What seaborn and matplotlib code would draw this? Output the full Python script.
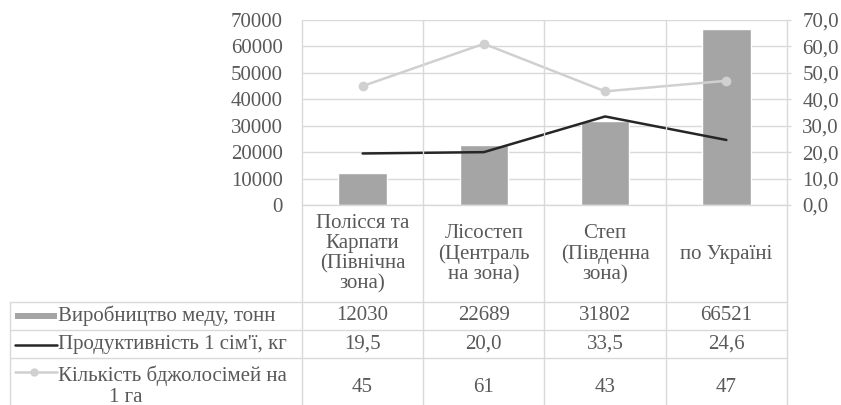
import numpy as np
import matplotlib
matplotlib.use("Agg")
import matplotlib.pyplot as plt
import matplotlib.transforms as mtransforms
from matplotlib.lines import Line2D
from matplotlib.patches import Rectangle
from matplotlib.ticker import FuncFormatter, MultipleLocator
import seaborn as sns

categories = [
    "Полісся та\nКарпати\n(Північна\nзона)",
    "Лісостеп\n(Централь\nна зона)",
    "Степ\n(Південна\nзона)",
    "по Україні",
]
honey = [12030, 22689, 31802, 66521]
productivity = [19.5, 20.0, 33.5, 24.6]
density = [45, 61, 43, 47]

honey_labels = ["12030", "22689", "31802", "66521"]
prod_labels = ["19,5", "20,0", "33,5", "24,6"]
dens_labels = ["45", "61", "43", "47"]

row_names = [
    "Виробництво меду, тонн",
    "Продуктивність 1 сім'ї, кг",
    "Кількість бджолосімей на\n1 га",
]

BAR = "#A5A5A5"
DARK = "#262626"
LIGHT = "#D0D0D0"
GRID = "#D9D9D9"
TXT = "#595959"

sns.set_theme(style="white")
plt.rcParams["font.family"] = ["Liberation Serif", "DejaVu Serif"]
FONT = ["Liberation Serif", "DejaVu Serif"]

W, H = 841, 405
fig = plt.figure(figsize=(W / 100, H / 100), dpi=100)

def fx(px):
    return px / W

def fy(py):
    return 1 - py / H

left, right, top, bottom = 302, 787, 20, 205
ax = fig.add_axes([fx(left), fy(bottom), fx(right - left), (bottom - top) / H])

x = np.arange(len(categories))
sns.barplot(x=x, y=honey, ax=ax, color=BAR, width=0.4, saturation=1, native_scale=True)
ax.set_xlim(-0.5, len(categories) - 0.5)
ax.set_ylim(0, 70000)
ax.yaxis.set_major_locator(MultipleLocator(10000))
ax.set_axisbelow(True)
ax.yaxis.grid(True, color=GRID, lw=1)
ax.set_xticks([])
ax.tick_params(axis="y", length=0, pad=14, labelsize=15, labelcolor=TXT)
for s in ax.spines.values():
    s.set_visible(False)

ax2 = ax.twinx()
sns.lineplot(x=x, y=productivity, ax=ax2, color=DARK, lw=1.8)
sns.lineplot(x=x, y=density, ax=ax2, color=LIGHT, lw=1.8, marker="o",
             markersize=7, markeredgewidth=0)
ax2.set_xlim(-0.5, len(categories) - 0.5)
ax2.set_ylim(0, 70)
ax2.yaxis.set_major_locator(MultipleLocator(10))
ax2.yaxis.set_major_formatter(FuncFormatter(lambda v, p: f"{v:.1f}".replace(".", ",")))
ax2.tick_params(axis="y", length=3, width=1, color=GRID, pad=8, labelsize=15, labelcolor=TXT)
ax2.set_ylabel("")
for s in ax2.spines.values():
    s.set_visible(False)
for lab in ax.get_yticklabels() + ax2.get_yticklabels():
    lab.set_family(FONT)

# table / category grid, x in data units, y in figure units
tr = mtransforms.blended_transform_factory(ax.transData, fig.transFigure)
for b in np.arange(len(categories) + 1) - 0.5:
    fig.add_artist(Line2D([b, b], [fy(top), fy(H)], transform=tr, color=GRID, lw=1))
fig.add_artist(Line2D([-0.5, len(categories) - 0.5], [fy(bottom), fy(bottom)],
                      transform=tr, color=GRID, lw=1))

row_lines = [302, 330, 358]
for r in row_lines:
    fig.add_artist(Line2D([fx(10), fx(right)], [fy(r), fy(r)], color=GRID, lw=1))
fig.add_artist(Line2D([fx(10), fx(10)], [fy(302), fy(H)], color=GRID, lw=1))

fs = 15
for i, c in enumerate(categories):
    fig.text(i, fy(254), c, transform=tr, ha="center", va="center",
             fontsize=fs, color=TXT, linespacing=1.08, family=FONT)

row_y = [316, 344, 387]
for vals, ry in zip([honey_labels, prod_labels, dens_labels], row_y):
    for i, v in enumerate(vals):
        fig.text(i, fy(ry), v, transform=tr, ha="center", va="center",
                 fontsize=fs, color=TXT, family=FONT)

# row labels with legend keys
fig.text(fx(58), fy(316), row_names[0], ha="left", va="center", fontsize=fs, color=TXT, family=FONT)
fig.text(fx(58), fy(344), row_names[1], ha="left", va="center", fontsize=fs, color=TXT, family=FONT)
name3, name3b = row_names[2].split("\n")
fig.text(fx(58), fy(376), name3, ha="left", va="center", fontsize=fs, color=TXT, family=FONT)
fig.text(fx(126), fy(397), name3b, ha="center", va="center", fontsize=fs, color=TXT, family=FONT)

fig.add_artist(Rectangle((fx(15), fy(319)), fx(42), 6 / H, color=BAR, lw=0))
fig.add_artist(Line2D([fx(15), fx(57)], [fy(345), fy(345)], color=DARK, lw=1.8))
fig.add_artist(Line2D([fx(15), fx(57)], [fy(372), fy(372)], color=LIGHT, lw=1.8))
fig.add_artist(Line2D([fx(34)], [fy(372)], color=LIGHT, marker="o", markersize=6,
                      markeredgewidth=0, lw=0))

fig.savefig("out.png", dpi=100)
